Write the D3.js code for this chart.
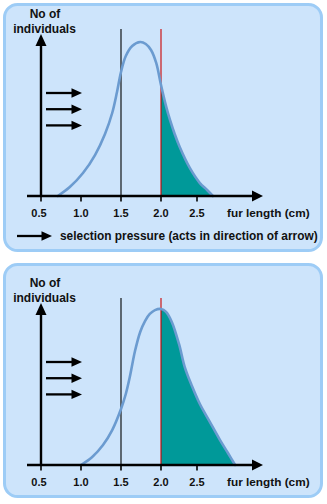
<!DOCTYPE html>
<html><head><meta charset="utf-8">
<script src="https://cdn.jsdelivr.net/npm/d3@7"></script>
<style>
html,body{margin:0;padding:0;background:#fff;}
svg{display:block;}
text{font-family:"Liberation Sans",Arial,sans-serif;font-weight:bold;fill:#111;}
</style></head>
<body><svg id="c" width="327" height="504"></svg>
<script>
// ---- data ----
const tickValues = [0.5, 1.0, 1.5, 2.0, 2.5];
const tickLabels = ["0.5", "1.0", "1.5", "2.0", "2.5"];
const markerLines = [1.5, 2.0];           // black line, red line
const selectedFrom = 2.0;                 // shaded region starts here
// panel 1: before selection
const furLength1 = [0.71, 0.86, 1.025, 1.175, 1.30, 1.39, 1.45, 1.50, 1.56, 1.64, 1.74, 1.81, 1.875, 1.94, 2.0, 2.07, 2.125, 2.19, 2.26, 2.40, 2.54, 2.64, 2.72];
const count1     = [0,    5.8,  14.9,  26.6,  40.3, 53.9, 67.5, 80.5, 90.9, 97.4, 100,  98.7, 94.8,  86.4, 72.1, 58.4, 49.4, 40.3, 31.8, 18.2, 8.4,  3.9,  0];
// panel 2: after selection
const furLength2 = [1.0, 1.14, 1.275, 1.39, 1.5,  1.56, 1.61, 1.675, 1.74, 1.80, 1.86, 1.925, 2.0,   2.07, 2.15, 2.25, 2.33, 2.43, 2.54, 2.68, 2.82, 2.93, 3.03];
const count2     = [0,   5.2,  13,    22.7, 36.4, 46.1, 57.1, 74,    86.4, 93.5, 98.1, 100.6, 101.3, 99.4, 92.9, 78.6, 63.6, 51.3, 39.6, 27.9, 16.2, 7.8,  0];
const yLabel = ["No of", "individuals"];
const xLabel = "fur length (cm)";
const legendText = "selection pressure (acts in direction of arrow)";
const pressureArrows = [0, 1, 2];

const svg = d3.select("#c");
const panelFill = "#cde4fb", panelStroke = "#9dccf6";

// panel backgrounds
svg.append("rect").attr("x", 4.5).attr("y", 4.5).attr("width", 317).attr("height", 246)
  .attr("rx", 13).attr("fill", panelFill).attr("stroke", panelStroke).attr("stroke-width", 3);
svg.append("rect").attr("x", 4.5).attr("y", 264.5).attr("width", 317).attr("height", 232)
  .attr("rx", 13).attr("fill", panelFill).attr("stroke", panelStroke).attr("stroke-width", 3);

const x = d3.scaleLinear().domain([0.5, 2.0, 2.5]).range([41, 161, 197]);
const y = d3.scaleLinear().domain([0, 100]).range([196, 42]);
const baseY = y(0);

function drawPanel(dy, fl, ct, id) {
  const g = svg.append("g").attr("transform", `translate(0,${dy})`);
  const pts = fl.map((v, i) => [v, ct[i]]);
  const crv = d3.curveCatmullRom.alpha(0.5);
  const line = d3.line().x(d => x(d[0])).y(d => y(d[1])).curve(crv);
  const area = d3.area().x(d => x(d[0])).y0(baseY).y1(d => y(d[1])).curve(crv);

  // clip for shaded region
  g.append("clipPath").attr("id", "clip" + id).append("rect")
    .attr("x", x(selectedFrom)).attr("y", 0).attr("width", 200).attr("height", baseY);
  g.append("path").datum(pts).attr("d", area).attr("fill", "#009999")
    .attr("clip-path", `url(#clip${id})`);

  // vertical marker lines
  markerLines.forEach((v, i) => {
    g.append("line").attr("x1", x(v)).attr("x2", x(v)).attr("y1", 29).attr("y2", baseY)
      .attr("stroke", i === 0 ? "#000" : "#cc0000").attr("stroke-width", 1.1);
  });

  // curve
  g.append("path").datum(pts).attr("d", line).attr("fill", "none")
    .attr("stroke", "#6b9bd0").attr("stroke-width", 2.6).attr("stroke-linecap", "round");

  // x axis line + arrow
  g.append("line").attr("x1", 27).attr("x2", 254).attr("y1", baseY).attr("y2", baseY)
    .attr("stroke", "#000").attr("stroke-width", 2.4);
  g.append("path").attr("d", `M252,${baseY - 5.5}L263,${baseY}L252,${baseY + 5.5}Z`).attr("fill", "#000");
  // y axis line + arrow
  g.append("line").attr("x1", x(0.5)).attr("x2", x(0.5)).attr("y1", baseY).attr("y2", 44)
    .attr("stroke", "#000").attr("stroke-width", 2.4);
  g.append("path").attr("d", `M${x(0.5) - 5.5},46L${x(0.5)},34L${x(0.5) + 5.5},46Z`).attr("fill", "#000");

  // ticks
  tickValues.forEach((v, i) => {
    g.append("line").attr("x1", x(v)).attr("x2", x(v)).attr("y1", baseY).attr("y2", baseY + 5.5)
      .attr("stroke", "#000").attr("stroke-width", 1.6);
    g.append("text").attr("x", x(v) - (i === 0 ? 2 : 0)).attr("y", 216.5).attr("text-anchor", "middle")
      .attr("font-size", 11).text(tickLabels[i]);
  });
  g.append("text").attr("x", 227).attr("y", 216.8).attr("font-size", 11.8).text(xLabel);

  // y label
  g.append("text").attr("x", 45).attr("y", 18.3).attr("text-anchor", "middle").attr("font-size", 12).text(yLabel[0]);
  g.append("text").attr("x", 44.5).attr("y", 33.3).attr("text-anchor", "middle").attr("font-size", 12).text(yLabel[1]);

  // selection pressure arrows
  pressureArrows.forEach(k => {
    const ay = 93 + k * 16.2;
    g.append("line").attr("x1", 46).attr("x2", 73).attr("y1", ay).attr("y2", ay)
      .attr("stroke", "#000").attr("stroke-width", 2.3);
    g.append("path").attr("d", `M71.5,${ay - 4.7}L82,${ay}L71.5,${ay + 4.7}Z`).attr("fill", "#000");
  });
  return g;
}

const g1 = drawPanel(0, furLength1, count1, 1);
drawPanel(269, furLength2, count2, 2);

// legend (panel 1 only)
g1.append("line").attr("x1", 17).attr("x2", 43).attr("y1", 236).attr("y2", 236)
  .attr("stroke", "#000").attr("stroke-width", 2.3);
g1.append("path").attr("d", "M41.5,231.3L52,236L41.5,240.7Z").attr("fill", "#000");
g1.append("text").attr("x", 60).attr("y", 240.3).attr("font-size", 11.9).text(legendText);
</script></body></html>
